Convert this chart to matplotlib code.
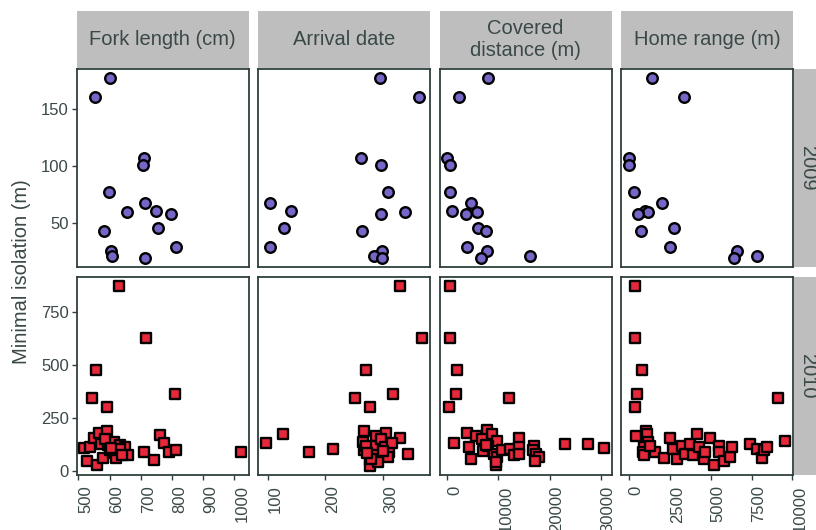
import matplotlib
matplotlib.use("Agg")
import matplotlib.pyplot as plt

# -----------------------------
# Data
# -----------------------------
variables = ["Fork length (cm)", "Arrival date", "Covered\ndistance (m)", "Home range (m)"]
years = ["2009", "2010"]

# 2009: one isolation value per fish, one x per variable
iso_2009 = [177, 160, 107, 101, 77, 67, 60, 59, 58, 45, 43, 29, 25, 21, 19]
fork_2009 = [601, 554, 711, 706, 599, 714, 749, 656, 796, 756, 581, 814, 605, 608, 714]
arrival_2009 = [295, 363, 262, 297, 308, 104, 140, 338, 297, 128, 264, 105, 299, 285, 298]
distance_2009 = [8040, 2350, 0, 590, 530, 4650, 980, 5820, 3600, 5960, 7530, 3920, 7780, 16150, 6670]
home_2009 = [1406, 3343, 0, 30, 290, 2000, 1000, 1150, 550, 2775, 735, 2506, 6625, 7850, 6420]

# 2010: points per panel
fork_2010_x = [629, 718, 556, 545, 810, 591, 519, 538, 526, 560, 551, 567, 592, 572, 594,
               613, 632, 650, 660, 615, 578, 620, 602, 634, 711, 741, 762, 773, 791, 812, 1020,
               585, 605, 640]
fork_2010_y = [870, 627, 478, 342, 365, 304, 109, 113, 47, 31, 157, 180, 191, 129, 124,
               139, 124, 116, 78, 87, 62, 62, 98, 105, 93, 54, 172, 132, 90, 98, 93,
               150, 110, 75]

arrival_2010_x = [330, 368, 270, 252, 318, 277, 97, 126, 171, 213, 268, 288, 305, 329, 343,
                  265, 268, 277, 278, 286, 284, 297, 303, 311, 316, 309, 291, 270, 300, 280, 272]
arrival_2010_y = [870, 627, 478, 342, 365, 304, 132, 175, 90, 103, 191, 168, 180, 158, 79,
                  137, 98, 51, 25, 121, 75, 152, 113, 90, 134, 67, 44, 120, 95, 60, 85]

distance_2010_x = [590, 590, 1840, 1700, 330, 12160, 1248, 3928, 5562, 7849, 8830, 6869, 9810,
                   14058, 16869, 4255, 4581, 7065, 8045, 9156, 9810, 9483, 10660, 12296, 13080,
                   13928, 14058, 16673, 17326, 17980, 17130, 23078, 27588, 30594, 9600, 7500]
distance_2010_y = [870, 627, 478, 365, 304, 342, 132, 180, 168, 194, 175, 152, 143,
                   158, 121, 113, 59, 95, 121, 82, 67, 31, 98, 106, 78,
                   116, 82, 98, 82, 67, 47, 129, 129, 109, 45, 125]

home_2010_x = [348, 348, 795, 470, 348, 9108, 452, 1039, 1100, 1202, 958, 896, 1610, 2120,
               2527, 2669, 2934, 3239, 3402, 3748, 3891, 4156, 4299, 4564, 4666, 4971, 5176,
               5482, 5482, 5787, 6195, 6295, 7415, 7822, 8128, 8230, 8434, 9553, 900, 1300]
home_2010_y = [870, 627, 478, 365, 304, 342, 168, 191, 175, 137, 116, 93, 93, 62,
               158, 106, 59, 121, 82, 129, 78, 175, 113, 59, 93, 155, 31,
               121, 93, 47, 67, 116, 129, 106, 64, 98, 116, 141, 75, 120]

panels_x = [[fork_2009, arrival_2009, distance_2009, home_2009],
            [fork_2010_x, arrival_2010_x, distance_2010_x, home_2010_x]]
panels_y = [[iso_2009] * 4,
            [fork_2010_y, arrival_2010_y, distance_2010_y, home_2010_y]]

x_ticks = [[500, 600, 700, 800, 900, 1000], [100, 200, 300], [0, 10000, 20000, 30000],
           [0, 2500, 5000, 7500, 10000]]
y_ticks = [[50, 100, 150], [0, 250, 500, 750]]

# -----------------------------
# Style
# -----------------------------
plt.rcParams["font.family"] = ["Liberation Sans", "DejaVu Sans"]
dark = "#2F3F3F"
text_col = "#3A4848"
strip_bg = "#BEBEBE"
fills = ["#7766C8", "#E6283A"]
markers = ["o", "s"]

W, H = 816, 530
fig = plt.figure(figsize=(W / 100, H / 100), dpi=100)

col_left = [76.5, 258, 439.5, 621]
panel_w = 172
row_top = [69, 277]
panel_h = 198


def px_axes(x0, y0, w, h, **kw):
    return fig.add_axes([x0 / W, 1 - (y0 + h) / H, w / W, h / H], **kw)


axes = [[None] * 4 for _ in range(2)]
for r in range(2):
    for c in range(4):
        kw = {}
        if r == 1:
            kw["sharex"] = axes[0][c]
        if c > 0:
            kw["sharey"] = axes[r][0]
        ax = px_axes(col_left[c], row_top[r], panel_w, panel_h, **kw)
        axes[r][c] = ax
        ax.scatter(panels_x[r][c], panels_y[r][c], s=58, marker=markers[r],
                   facecolor=fills[r], edgecolor="black", linewidth=1.7, zorder=3)
        for sp in ax.spines.values():
            sp.set_color(dark)
            sp.set_linewidth(1.3)
        ax.tick_params(color=dark, labelcolor=text_col, labelsize=12, length=3.5,
                       width=1.0, pad=2)
        ax.set_xticks(x_ticks[c])
        ax.set_yticks(y_ticks[r])
        if r == 0:
            ax.tick_params(axis="x", bottom=False, labelbottom=False)
        else:
            ax.tick_params(axis="x", pad=4)
            for lab in ax.get_xticklabels():
                lab.set_rotation(90)
                lab.set_rotation_mode("anchor")
                lab.set_ha("right")
                lab.set_va("top")
        if c > 0:
            ax.tick_params(axis="y", left=False, labelleft=False)

# top strips
for c in range(4):
    sax = px_axes(col_left[c], 11, panel_w, 57)
    sax.set_facecolor(strip_bg)
    sax.set_xticks([])
    sax.set_yticks([])
    for sp in sax.spines.values():
        sp.set_visible(False)
    sax.text(0.5, 0.5, variables[c], ha="center", va="center", fontsize=14.5,
             color=text_col, linespacing=1.15, transform=sax.transAxes)

# right strips
for r in range(2):
    sax = px_axes(793.5, row_top[r], 26, panel_h)
    sax.set_facecolor(strip_bg)
    sax.set_xticks([])
    sax.set_yticks([])
    for sp in sax.spines.values():
        sp.set_visible(False)
    sax.text(0.55, 0.5, years[r], ha="center", va="center", fontsize=14.5,
             color=text_col, rotation=-90, transform=sax.transAxes)

fig.text(22 / W, 1 - 272 / H, "Minimal isolation (m)", rotation=90, ha="center",
         va="center", fontsize=14.5, color=text_col)

fig.savefig("out.png", dpi=100)
